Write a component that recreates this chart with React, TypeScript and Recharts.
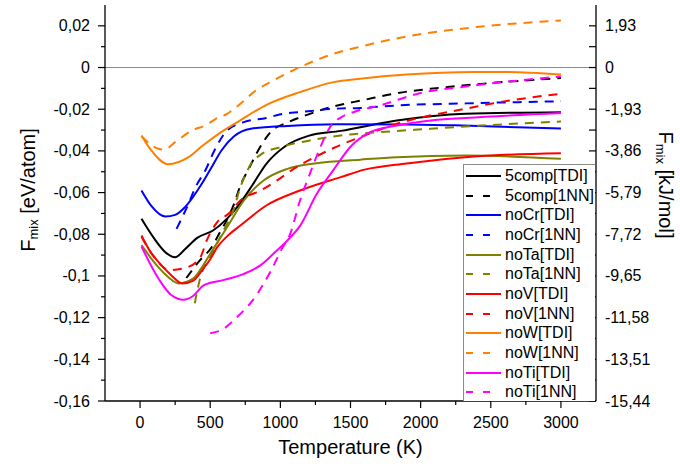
import { LineChart, Line, XAxis, YAxis, ReferenceLine, Legend, Label } from "recharts";

// Temperatures (K) and F_mix (eV/atom), one pair per curve
const comp5TdiT = [10, 100, 180, 250, 320, 410, 520, 620, 710, 800, 900, 1030, 1200, 1430, 1830, 2320, 3000];
const comp5TdiF = [-0.0726, -0.082, -0.0886, -0.091, -0.0872, -0.0816, -0.0782, -0.0725, -0.0654, -0.0565, -0.0462, -0.038, -0.0328, -0.0304, -0.0254, -0.0222, -0.0214];

const comp5NnT = [330, 420, 510, 570, 620, 670, 715, 775, 835, 930, 1050, 1170, 1360, 1600, 1830, 2070, 2320, 3000];
const comp5NnF = [-0.101, -0.093, -0.0862, -0.079, -0.073, -0.0654, -0.0566, -0.0486, -0.0406, -0.031, -0.0264, -0.0232, -0.019, -0.0155, -0.0123, -0.0102, -0.0085, -0.005];

const noCrTdiT = [10, 80, 180, 250, 320, 440, 510, 580, 670, 790, 1050, 1400, 1900, 2300, 3000];
const noCrTdiF = [-0.059, -0.0664, -0.0715, -0.0707, -0.067, -0.0558, -0.0478, -0.0398, -0.033, -0.0294, -0.028, -0.0272, -0.0273, -0.0278, -0.0293];

const noCrNnT = [260, 345, 395, 465, 530, 620, 740, 900, 1020, 1140, 1380, 1570, 1830, 2320, 3000];
const noCrNnF = [-0.0774, -0.0654, -0.0574, -0.0494, -0.0398, -0.0302, -0.0262, -0.0242, -0.0222, -0.0214, -0.0198, -0.0194, -0.0182, -0.0172, -0.0162];

const noTaTdiT = [10, 130, 200, 275, 380, 440, 500, 560, 620, 740, 880, 1050, 1260, 1570, 1830, 2320, 3000];
const noTaTdiF = [-0.0852, -0.0958, -0.1005, -0.1036, -0.1012, -0.096, -0.0894, -0.083, -0.0766, -0.0638, -0.0542, -0.0486, -0.0459, -0.0442, -0.043, -0.0422, -0.0438];

const noTaNnT = [390, 430, 500, 595, 665, 715, 760, 790, 860, 1000, 1210, 1430, 1710, 2070, 2320, 3000];
const noTaNnF = [-0.1131, -0.1006, -0.091, -0.0782, -0.0686, -0.0574, -0.0502, -0.0462, -0.0418, -0.0382, -0.035, -0.0326, -0.031, -0.0294, -0.0283, -0.0259];

const noVTdiT = [10, 70, 140, 220, 300, 380, 450, 500, 550, 620, 715, 900, 1140, 1430, 1600, 1900, 2380, 3000];
const noVTdiF = [-0.0806, -0.088, -0.094, -0.0995, -0.1036, -0.1022, -0.0966, -0.092, -0.0862, -0.081, -0.0758, -0.0662, -0.059, -0.0526, -0.049, -0.046, -0.0427, -0.0411];

const noVNnT = [10, 95, 210, 330, 430, 475, 550, 630, 715, 860, 980, 1100, 1240, 1380, 1600, 1830, 2070, 2320, 2520, 3000];
const noVNnF = [-0.0812, -0.0905, -0.0972, -0.096, -0.091, -0.083, -0.0742, -0.0702, -0.0638, -0.059, -0.054, -0.0484, -0.0432, -0.0386, -0.0326, -0.027, -0.023, -0.0198, -0.0171, -0.0126];

const noWTdiT = [10, 80, 200, 345, 440, 600, 670, 905, 1140, 1380, 1570, 1900, 2380, 2620, 3000];
const noWTdiF = [-0.0326, -0.0398, -0.0464, -0.043, -0.0378, -0.03, -0.0272, -0.0178, -0.0118, -0.007, -0.0054, -0.0034, -0.0022, -0.0022, -0.0034];

const noWNnT = [10, 130, 170, 250, 370, 470, 540, 620, 715, 810, 950, 1140, 1380, 1570, 1900, 2380, 3000];
const noWNnF = [-0.033, -0.039, -0.0394, -0.0358, -0.0302, -0.0276, -0.0246, -0.0222, -0.0174, -0.0118, -0.0062, 0.0002, 0.0066, 0.01, 0.0149, 0.0193, 0.0226];

const noTiTdiT = [10, 140, 220, 310, 380, 450, 600, 740, 860, 950, 1050, 1140, 1260, 1380, 1500, 1640, 1830, 2070, 2320, 3000];
const noTiTdiF = [-0.0859, -0.1022, -0.109, -0.1114, -0.1095, -0.1046, -0.1019, -0.099, -0.0948, -0.0894, -0.083, -0.076, -0.0606, -0.049, -0.038, -0.031, -0.0278, -0.0254, -0.0242, -0.0218];

const noTiNnT = [500, 595, 665, 750, 820, 880, 940, 1010, 1070, 1140, 1210, 1285, 1360, 1430, 1530, 1710, 2000, 2320, 3000];
const noTiNnF = [-0.1275, -0.1254, -0.1214, -0.1158, -0.1102, -0.1038, -0.0966, -0.087, -0.0798, -0.0638, -0.051, -0.0382, -0.028, -0.024, -0.0212, -0.0182, -0.0122, -0.0091, -0.0043];

const xMajorTicks = [0, 500, 1000, 1500, 2000, 2500, 3000];
const xMinorTicks = [250, 750, 1250, 1750, 2250, 2750];
const yMajorTicks = [-0.16, -0.14, -0.12, -0.1, -0.08, -0.06, -0.04, -0.02, 0, 0.02];
const yMinorTicks = [-0.15, -0.13, -0.11, -0.09, -0.07, -0.05, -0.03, -0.01, 0.01];

const EV_TO_KJ = 96.485;
const FONT = '"Liberation Sans", Arial, sans-serif';

const zip = (t: number[], f: number[]) => t.map((x, i) => ({ t: x, f: f[i] }));

const series = [
  { name: "5comp[TDI]", data: zip(comp5TdiT, comp5TdiF), color: "#000000", dashed: false },
  { name: "5comp[1NN]", data: zip(comp5NnT, comp5NnF), color: "#000000", dashed: true },
  { name: "noCr[TDI]", data: zip(noCrTdiT, noCrTdiF), color: "#0000ff", dashed: false },
  { name: "noCr[1NN]", data: zip(noCrNnT, noCrNnF), color: "#0000ff", dashed: true },
  { name: "noTa[TDI]", data: zip(noTaTdiT, noTaTdiF), color: "#808000", dashed: false },
  { name: "noTa[1NN]", data: zip(noTaNnT, noTaNnF), color: "#808000", dashed: true },
  { name: "noV[TDI]", data: zip(noVTdiT, noVTdiF), color: "#ff0000", dashed: false },
  { name: "noV[1NN]", data: zip(noVNnT, noVNnF), color: "#ff0000", dashed: true },
  { name: "noW[TDI]", data: zip(noWTdiT, noWTdiF), color: "#ff8000", dashed: false },
  { name: "noW[1NN]", data: zip(noWNnT, noWNnF), color: "#ff8000", dashed: true },
  { name: "noTi[TDI]", data: zip(noTiTdiT, noTiTdiF), color: "#ff00ff", dashed: false },
  { name: "noTi[1NN]", data: zip(noTiNnT, noTiNnF), color: "#ff00ff", dashed: true },
];

const DASH = "9 7";

const isIn = (v: number, list: number[]) => list.some((m) => Math.abs(m - v) < 1e-9);
const commaNum = (v: number) => (Math.abs(v) < 1e-12 ? "0" : String(v).replace(".", ","));

const textProps = { fontSize: 16, fontFamily: FONT, fill: "#000" };

function LeftTick(props: any) {
  const { x, y, payload } = props;
  const major = isIn(payload.value, yMajorTicks);
  return (
    <g>
      <line x1={x - (major ? 7 : 4)} x2={x} y1={y} y2={y} stroke="#000" strokeWidth={1.2} />
      {major && (
        <text x={x - 15} y={y} textAnchor="end" dominantBaseline="central" {...textProps}>
          {commaNum(payload.value)}
        </text>
      )}
    </g>
  );
}

function RightTick(props: any) {
  const { x, y, payload } = props;
  const major = isIn(payload.value, yMajorTicks);
  const kj = payload.value * EV_TO_KJ;
  return (
    <g>
      <line x1={x - 7} x2={x} y1={y} y2={y} stroke="#000" strokeWidth={1.2} />
      {major && (
        <text x={x + 9} y={y} textAnchor="start" dominantBaseline="central" {...textProps}>
          {Math.abs(kj) < 1e-9 ? "0" : kj.toFixed(2).replace(".", ",")}
        </text>
      )}
    </g>
  );
}

function BottomTick(props: any) {
  const { x, y, payload } = props;
  const major = isIn(payload.value, xMajorTicks);
  return (
    <g>
      <line x1={x} x2={x} y1={y} y2={y + (major ? 7 : 4)} stroke="#000" strokeWidth={1.2} />
      {major && (
        <text x={x} y={y + 21} textAnchor="middle" dominantBaseline="central" {...textProps}>
          {payload.value}
        </text>
      )}
    </g>
  );
}

function TopTick(props: any) {
  const { x, y } = props;
  return <line x1={x} x2={x} y1={y} y2={y + 7} stroke="#000" strokeWidth={1.2} />;
}

const LeftTitle = (props: any) => {
  const { x, y } = props.viewBox;
  const cx = x + 28;
  const cy = y + 185;
  return (
    <text transform={`rotate(-90, ${cx}, ${cy})`} x={cx} y={cy} textAnchor="middle" dominantBaseline="central" fontSize={20} fontFamily={FONT} fill="#000">
      F<tspan fontSize={13} dy={5}>mix</tspan>
      <tspan dy={-5}> [eV/atom]</tspan>
    </text>
  );
};

const RightTitle = (props: any) => {
  const { x, y } = props.viewBox;
  const cx = x + 70;
  const cy = y + 180;
  return (
    <text transform={`rotate(90, ${cx}, ${cy})`} x={cx} y={cy} textAnchor="middle" dominantBaseline="central" fontSize={20} fontFamily={FONT} fill="#000">
      F<tspan fontSize={13} dy={5}>mix</tspan>
      <tspan dy={-5}> [kJ/mol]</tspan>
    </text>
  );
};

const BottomTitle = (props: any) => {
  const { x, y, width } = props.viewBox;
  return (
    <text x={x + width / 2} y={y + 46} textAnchor="middle" dominantBaseline="central" fontSize={20} fontFamily={FONT} fill="#000">
      Temperature (K)
    </text>
  );
};

const renderLegend = () => (
  <div
    style={{
      width: "100%",
      height: "100%",
      boxSizing: "border-box",
      background: "#fff",
      borderLeft: "1px solid #8a8a8a",
      borderTop: "1px solid #8a8a8a",
      paddingTop: 1,
      fontFamily: FONT,
      fontSize: 16,
      color: "#000",
    }}
  >
    {series.map((s) => (
      <div key={s.name} style={{ height: 19.7, display: "flex", alignItems: "center" }}>
        <svg width={40} height={6} style={{ marginLeft: 1, flex: "none" }}>
          <line
            x1={1}
            x2={s.dashed ? 28 : 36}
            y1={3}
            y2={3}
            stroke={s.color}
            strokeWidth={2}
            strokeDasharray={s.dashed ? "7 10" : undefined}
          />
        </svg>
        <span style={{ whiteSpace: "nowrap", lineHeight: "16px" }}>{s.name}</span>
      </div>
    ))}
  </div>
);

const axisLine = { stroke: "#000", strokeWidth: 1.3 };

export default function App() {
  return (
    <div style={{ position: "absolute", left: 0, top: 0, background: "#fff" }}>
      <LineChart width={680} height={468} margin={{ top: 5, right: 0, bottom: 0, left: 0 }}>
        <XAxis
          xAxisId="x"
          dataKey="t"
          type="number"
          domain={[-250, 3250]}
          allowDataOverflow
          ticks={[...xMajorTicks, ...xMinorTicks]}
          interval={0}
          height={67}
          tickSize={0}
          tickMargin={0}
          tickLine={false}
          tick={<BottomTick />}
          axisLine={axisLine}
        >
          <Label content={BottomTitle} />
        </XAxis>
        <XAxis
          xAxisId="xt"
          orientation="top"
          type="number"
          domain={[-250, 3250]}
          allowDataOverflow
          ticks={[...xMajorTicks, ...xMinorTicks]}
          interval={0}
          height={0}
          tickSize={0}
          tickMargin={0}
          tickLine={false}
          tick={<TopTick />}
          axisLine={axisLine}
        />
        <YAxis
          yAxisId="y"
          type="number"
          domain={[-0.16, 0.03]}
          allowDataOverflow
          ticks={[...yMajorTicks, ...yMinorTicks]}
          interval={0}
          width={105}
          tickSize={0}
          tickMargin={0}
          tickLine={false}
          tick={<LeftTick />}
          axisLine={axisLine}
        >
          <Label content={LeftTitle} />
        </YAxis>
        <YAxis
          yAxisId="yr"
          orientation="right"
          type="number"
          domain={[-0.16, 0.03]}
          allowDataOverflow
          ticks={[...yMajorTicks, ...yMinorTicks]}
          interval={0}
          width={84}
          tickSize={0}
          tickMargin={0}
          tickLine={false}
          tick={<RightTick />}
          axisLine={axisLine}
        >
          <Label content={RightTitle} />
        </YAxis>
        <ReferenceLine xAxisId="x" yAxisId="y" y={0} stroke="#8c8c8c" strokeWidth={1} />
        {series.map((s) => (
          <Line
            key={s.name}
            xAxisId="x"
            yAxisId="y"
            data={s.data}
            dataKey="f"
            name={s.name}
            type="monotone"
            stroke={s.color}
            strokeWidth={2}
            strokeDasharray={s.dashed ? DASH : undefined}
            dot={false}
            activeDot={false}
            isAnimationActive={false}
          />
        ))}
        <Legend
          layout="horizontal"
          verticalAlign="middle"
          align="center"
          wrapperStyle={{ left: 463, top: 164, width: 132, height: 237 }}
          content={renderLegend}
        />
      </LineChart>
    </div>
  );
}
